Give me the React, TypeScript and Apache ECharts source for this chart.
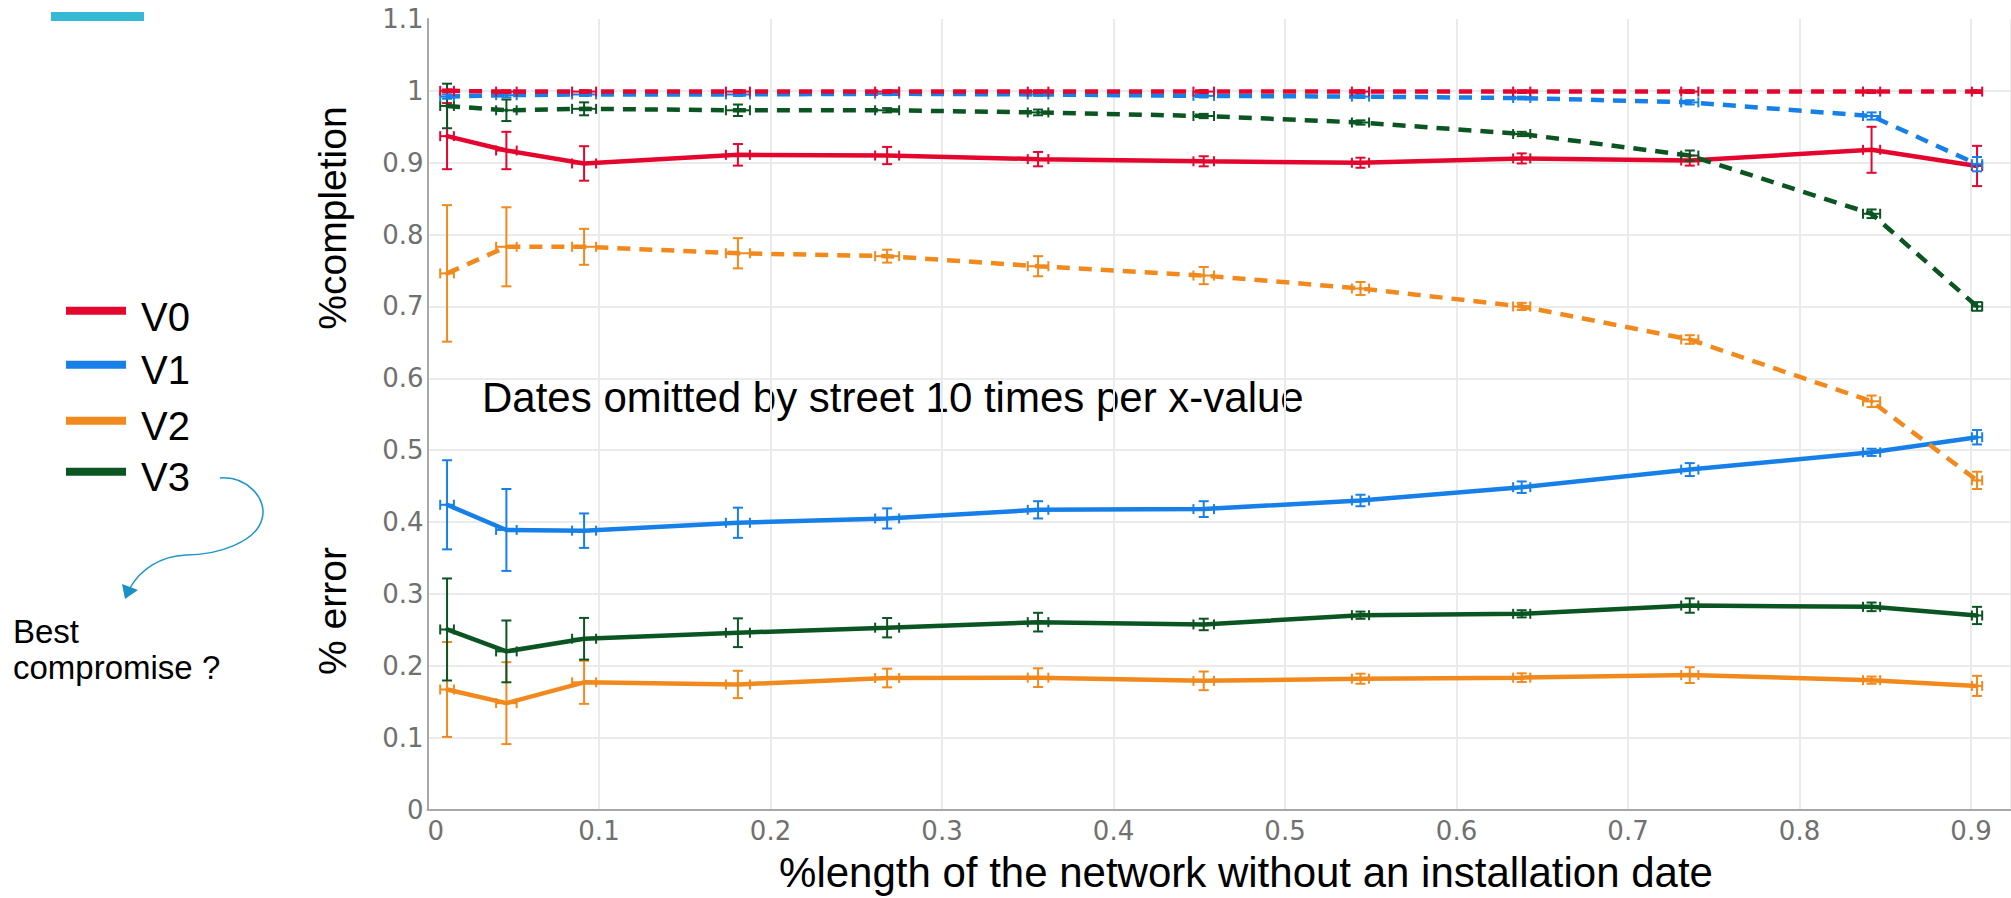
import React, { useEffect, useRef } from "react";
import * as echarts from "echarts";

// ---- data ----
const xVals = [0.0114, 0.046, 0.0913, 0.181, 0.268, 0.356, 0.4526, 0.544, 0.638, 0.736, 0.842, 0.9035];
const xErr = [0.004, 0.006, 0.007, 0.007, 0.007, 0.006, 0.006, 0.005, 0.005, 0.005, 0.005, 0.003];

// %completion (dashed)
const v0Completion = [1.0, 0.999, 0.999, 0.999, 0.999, 0.999, 0.999, 0.999, 0.999, 0.999, 0.999, 0.999];
const v0CompletionErr = [0.002, 0.002, 0.002, 0.002, 0.002, 0.002, 0.002, 0.002, 0.002, 0.002, 0.002, 0.002];
const v1Completion = [0.992, 0.994, 0.995, 0.995, 0.996, 0.995, 0.993, 0.992, 0.99, 0.984, 0.965, 0.898];
const v1CompletionErr = [0.003, 0.003, 0.002, 0.002, 0.002, 0.002, 0.002, 0.002, 0.002, 0.003, 0.005, 0.01];
const v2Completion = [0.746, 0.783, 0.783, 0.774, 0.77, 0.756, 0.743, 0.725, 0.7, 0.654, 0.568, 0.458];
const v2CompletionErr = [0.095, 0.055, 0.025, 0.021, 0.009, 0.014, 0.012, 0.009, 0.005, 0.006, 0.008, 0.012];
const v3Completion = [0.979, 0.973, 0.975, 0.973, 0.973, 0.97, 0.965, 0.956, 0.94, 0.91, 0.829, 0.7];
const v3CompletionErr = [0.031, 0.015, 0.009, 0.008, 0.003, 0.004, 0.003, 0.003, 0.003, 0.007, 0.006, 0.006];

// % error (solid)
const v0Error = [0.937, 0.917, 0.899, 0.911, 0.91, 0.905, 0.902, 0.9, 0.906, 0.903, 0.918, 0.8955];
const v0ErrorErr = [0.046, 0.026, 0.024, 0.015, 0.012, 0.01, 0.007, 0.007, 0.007, 0.007, 0.032, 0.028];
const v1Error = [0.424, 0.389, 0.388, 0.399, 0.405, 0.417, 0.418, 0.43, 0.4485, 0.473, 0.497, 0.518];
const v1ErrorErr = [0.062, 0.057, 0.024, 0.021, 0.014, 0.012, 0.011, 0.008, 0.008, 0.009, 0.005, 0.01];
const v2Error = [0.167, 0.148, 0.177, 0.174, 0.183, 0.1835, 0.179, 0.182, 0.1835, 0.187, 0.18, 0.172];
const v2ErrorErr = [0.066, 0.057, 0.03, 0.019, 0.013, 0.013, 0.013, 0.007, 0.006, 0.011, 0.005, 0.014];
const v3Error = [0.2505, 0.22, 0.2376, 0.246, 0.253, 0.2607, 0.2575, 0.2704, 0.2723, 0.2838, 0.282, 0.27];
const v3ErrorErr = [0.071, 0.043, 0.029, 0.02, 0.0135, 0.013, 0.008, 0.005, 0.005, 0.01, 0.006, 0.012];

const legendNames = ["V0", "V1", "V2", "V3"];
const colors = ["#e4062e", "#1780e8", "#f2891d", "#0b5522"];

const SANS = "Liberation Sans, Arial, sans-serif";
const TICK_FONT = "'DejaVu Sans', sans-serif";

type Def = { name: string; values: number[]; errs: number[]; color: string; dashed: boolean };

const defs: Def[] = [
  { name: "V2 error", values: v2Error, errs: v2ErrorErr, color: colors[2], dashed: false },
  { name: "V3 error", values: v3Error, errs: v3ErrorErr, color: colors[3], dashed: false },
  { name: "V1 error", values: v1Error, errs: v1ErrorErr, color: colors[1], dashed: false },
  { name: "V0 error", values: v0Error, errs: v0ErrorErr, color: colors[0], dashed: false },
  { name: "V2 completion", values: v2Completion, errs: v2CompletionErr, color: colors[2], dashed: true },
  { name: "V3 completion", values: v3Completion, errs: v3CompletionErr, color: colors[3], dashed: true },
  { name: "V1 completion", values: v1Completion, errs: v1CompletionErr, color: colors[1], dashed: true },
  { name: "V0 completion", values: v0Completion, errs: v0CompletionErr, color: colors[0], dashed: true },
];

function buildSeries(): any[] {
  const out: any[] = [];
  defs.forEach((d, k) => {
    out.push({
      name: d.name,
      type: "line",
      data: xVals.map((x, i) => [x, d.values[i]]),
      symbol: "circle",
      symbolSize: 4,
      showSymbol: true,
      itemStyle: { color: d.color, borderWidth: 0 },
      lineStyle: { color: d.color, width: 4.5, type: d.dashed ? [13, 9] : "solid" },
      z: 3 + k * 0.01,
      silent: true,
    });
    out.push({
      name: d.name + " bars",
      type: "custom",
      data: xVals.map((x, i) => [x, d.values[i], d.errs[i], xErr[i]]),
      encode: { x: 0, y: 1 },
      z: 4 + k * 0.01,
      silent: true,
      renderItem: (params: any, api: any) => {
        const x = api.value(0);
        const y = api.value(1);
        const ey = api.value(2);
        const ex = api.value(3);
        const c = api.coord([x, y]);
        const top = api.coord([x, y + ey]);
        const bot = api.coord([x, y - ey]);
        const left = api.coord([x - ex, y]);
        const right = api.coord([x + ex, y]);
        const st = { stroke: d.color, lineWidth: 2 };
        const cap = 5;
        const mk = (x1: number, y1: number, x2: number, y2: number) => ({
          type: "line",
          shape: { x1, y1, x2, y2 },
          style: st,
        });
        return {
          type: "group",
          children: [
            mk(c[0], top[1], c[0], bot[1]),
            mk(c[0] - cap, top[1], c[0] + cap, top[1]),
            mk(c[0] - cap, bot[1], c[0] + cap, bot[1]),
            mk(left[0], c[1], right[0], c[1]),
            mk(left[0], c[1] - cap, left[0], c[1] + cap),
            mk(right[0], c[1] - cap, right[0], c[1] + cap),
          ],
        };
      },
    });
  });
  return out;
}

const legendY = [310.7, 364.7, 420.7, 471.7];
const legendTextY = [317, 370, 426, 477];

function buildGraphic(): any[] {
  const g: any[] = [];
  g.push({ type: "rect", shape: { x: 51, y: 12, width: 93, height: 9 }, style: { fill: "#36b9d3" } });
  legendNames.forEach((n, i) => {
    g.push({ type: "rect", shape: { x: 66, y: legendY[i] - 4, width: 60, height: 8 }, style: { fill: colors[i] } });
    g.push({
      type: "text",
      x: 141,
      y: legendTextY[i],
      style: { text: n, fontSize: 40, fontFamily: SANS, fill: "#000", align: "left", verticalAlign: "middle" },
    });
  });
  // curved arrow
  const arrowStyle = { stroke: "#1e95c8", lineWidth: 1.5, fill: null };
  g.push({
    type: "bezierCurve",
    shape: { x1: 220, y1: 478, cpx1: 246, cpy1: 476, cpx2: 268, cpy2: 498, x2: 262, y2: 519 },
    style: arrowStyle,
  });
  g.push({
    type: "bezierCurve",
    shape: { x1: 262, y1: 519, cpx1: 256, cpy1: 542, cpx2: 218, cpy2: 555, x2: 186, y2: 555 },
    style: arrowStyle,
  });
  g.push({
    type: "bezierCurve",
    shape: { x1: 186, y1: 555, cpx1: 160, cpy1: 556, cpx2: 140, cpy2: 570, x2: 130, y2: 588 },
    style: arrowStyle,
  });
  g.push({
    type: "polygon",
    shape: { points: [[125, 599], [122, 584], [138, 590]] },
    style: { fill: "#1a90c4" },
  });
  g.push({
    type: "text",
    x: 13,
    y: 631,
    style: { text: "Best", fontSize: 33, fontFamily: SANS, fill: "#000", verticalAlign: "middle" },
  });
  g.push({
    type: "text",
    x: 13,
    y: 667,
    style: { text: "compromise ?", fontSize: 33, fontFamily: SANS, fill: "#000", verticalAlign: "middle" },
  });
  // annotation
  g.push({
    type: "text",
    x: 482,
    y: 397,
    style: {
      text: "Dates omitted by street 10 times per x-value",
      fontSize: 42,
      fontFamily: SANS,
      fill: "#000",
      verticalAlign: "middle",
    },
  });
  // axis titles
  g.push({
    type: "text",
    x: 332,
    y: 218,
    rotation: Math.PI / 2,
    style: { text: "%completion", fontSize: 39, fontFamily: SANS, fill: "#000", align: "center", verticalAlign: "middle" },
  });
  g.push({
    type: "text",
    x: 332,
    y: 611,
    rotation: Math.PI / 2,
    style: { text: "% error", fontSize: 39, fontFamily: SANS, fill: "#000", align: "center", verticalAlign: "middle" },
  });
  g.push({
    type: "text",
    x: 1246,
    y: 872,
    style: {
      text: "%length of the network without an installation date",
      fontSize: 42,
      fontFamily: SANS,
      fill: "#000",
      align: "center",
      verticalAlign: "middle",
    },
  });
  return g;
}

const fmt = (v: number) => String(Math.round(v * 10) / 10);

export default function App() {
  const ref = useRef<HTMLDivElement>(null);
  useEffect(() => {
    if (!ref.current) return;
    const chart = echarts.init(ref.current, undefined, { renderer: "svg" });
    chart.setOption({
      animation: false,
      backgroundColor: "#ffffff",
      grid: { left: 427.5, right: 0, top: 19, bottom: 88.5, containLabel: false },
      xAxis: {
        type: "value",
        min: 0,
        max: 0.9233,
        interval: 0.1,
        axisLine: { show: true, onZero: false, lineStyle: { color: "#a8a8a8", width: 2 } },
        axisTick: { show: false },
        splitLine: { show: true, showMinLine: false, lineStyle: { color: "#ebebeb", width: 2 } },
        axisLabel: {
          showMaxLabel: false,
          fontFamily: TICK_FONT,
          fontSize: 26,
          color: "#707070",
          margin: 8,
          alignMinLabel: "left",
          formatter: fmt,
        },
      },
      yAxis: {
        type: "value",
        min: 0,
        max: 1.1,
        interval: 0.1,
        axisLine: { show: true, onZero: false, lineStyle: { color: "#a8a8a8", width: 2 } },
        axisTick: { show: false },
        splitLine: { show: true, showMinLine: false, showMaxLine: false, lineStyle: { color: "#ebebeb", width: 2 } },
        axisLabel: {
          fontFamily: TICK_FONT,
          fontSize: 26,
          color: "#707070",
          margin: 4,
          formatter: fmt,
        },
      },
      series: buildSeries(),
      graphic: buildGraphic(),
    });
    return () => chart.dispose();
  }, []);
  return (
    <div
      ref={ref}
      style={{ position: "fixed", left: 0, top: 0, width: 2011, height: 898, background: "#fff" }}
    />
  );
}
